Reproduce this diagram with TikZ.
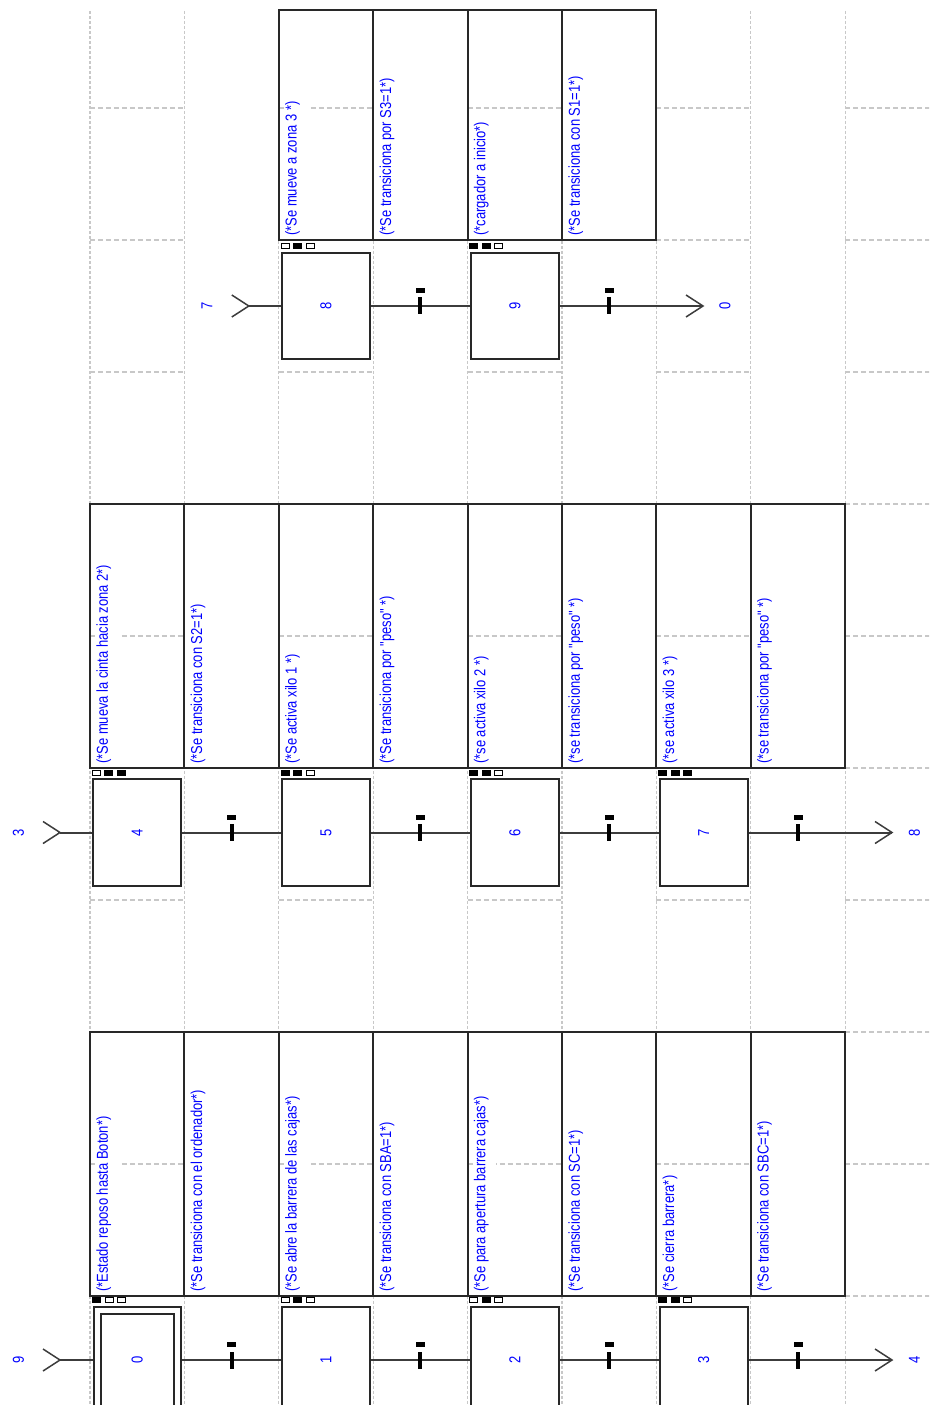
\documentclass[tikz,border=0pt]{standalone}
\usepackage{fontspec}
\usepackage{graphicx}
\newfontfamily\arialfont[FakeStretch=0.82]{Liberation Sans}

\definecolor{bleutexte}{RGB}{0,0,255}
\definecolor{trait}{RGB}{60,60,60}
\definecolor{cadre}{RGB}{40,40,40}
\definecolor{grille}{RGB}{200,200,200}

% three activity squares above a step
\newcommand{\etats}[4]{%
	\foreach \f [count=\i from 0] in {#2,#3,#4}
		\draw[etatbox, fill=\f] ([shift={(\i*12.5,-3)}]#1.north west) rectangle +(8,-5);%
}

\begin{document}
\begin{tikzpicture}[
	x=0.02cm, y=-0.02cm,
	texte/.style={text=bleutexte, font=\arialfont\fontsize{9}{10}\selectfont},
	grillev/.style={draw=grille, line width=0.025cm, dash pattern=on 0.06cm off 0.04cm},
	grilleh/.style={draw=grille, line width=0.025cm, dash pattern=on 0.1cm off 0.06cm},
	cellule/.style={draw=cadre, line width=0.04cm},
	commentaire/.style={
		texte, rotate=90, anchor=north west,
		fill=white, inner sep=0.02cm, text depth=0.2cm
	},
	etape/.style={
		draw=cadre, fill=white, texte,
		line width=0.04cm, inner sep=0,
		minimum width=1.76cm,
		minimum height=2.14cm
	},
	initiale/.style={
		etape, double, double distance=0.1cm,
		minimum width=1.6cm,
		minimum height=2cm,
		outer sep=0.09cm
	},
	marque/.style={fill=black, minimum width=0.18cm, minimum height=0.1cm, inner sep=0, outer sep=0},
	transition/.style={
		fill=black, inner sep=0, outer sep=0,
		minimum width=0.08cm,
		minimum height=0.34cm,
		label={[marque, yshift=0.09cm]above:{}}
	},
	etatbox/.style={draw=black, line width=0.02cm},
	lien/.style={draw=trait, line width=0.04cm},
	chevron/.style={draw=trait, line width=0.03cm},
	renvoi/.style={texte, rotate=90}
	]
	
	\useasboundingbox (0,0) rectangle (929,1405);
	\clip (0,0) rectangle (929,1405);
	
	% grid
	\foreach \k in {0,...,8}
		\draw[grillev] (90+\k*94.4,11) -- (90+\k*94.4,1405);
	\foreach \k in {0,2,4,6,8}
		\foreach \j in {0,...,9}
			\draw[grilleh] (90+\k*94.4,108+\j*132) -- ++(94.4,0);
	
	% action tables
	\foreach \k in {0,...,7}
		\draw[cellule] (90+\k*94.4,1032) rectangle ++(94.4,264);
	\foreach \k in {0,...,7}
		\draw[cellule] (90+\k*94.4,504) rectangle ++(94.4,264);
	\foreach \k in {2,...,5}
		\draw[cellule] (90+\k*94.4,10) rectangle ++(94.4,230);
	
	\node[commentaire] (a0)  at (95,1293)    {(*Estado reposo hasta Boton*)};
	\node[commentaire] (c01) at (189.4,1293) {(*Se transiciona con el ordenador*)};
	\node[commentaire] (a1)  at (283.8,1293) {(*Se abre la barrera de las cajas*)};
	\node[commentaire] (c12) at (378.2,1293) {(*Se transiciona con SBA=1*)};
	\node[commentaire] (a2)  at (472.6,1293) {(*Se para apertura barrera cajas*)};
	\node[commentaire] (c23) at (567,1293)   {(*Se transiciona con SC=1*)};
	\node[commentaire] (a3)  at (661.4,1293) {(*Se cierra barrera*)};
	\node[commentaire] (c34) at (755.8,1293) {(*Se transiciona con SBC=1*)};
	
	\node[commentaire] (a4)  at (95,765)    {(*Se mueva la cinta hacia zona 2*)};
	\node[commentaire] (c45) at (189.4,765) {(*Se transiciona con S2=1*)};
	\node[commentaire] (a5)  at (283.8,765) {(*Se activa xilo 1 *)};
	\node[commentaire] (c56) at (378.2,765) {(*Se transiciona por "peso" *)};
	\node[commentaire] (a6)  at (472.6,765) {(*se activa xilo 2 *)};
	\node[commentaire] (c67) at (567,765)   {(*se transiciona por "peso" *)};
	\node[commentaire] (a7)  at (661.4,765) {(*se activa xilo 3 *)};
	\node[commentaire] (c78) at (755.8,765) {(*se transiciona por "peso"  *)};
	
	\node[commentaire] (a8)  at (283.8,237) {(*Se mueve a zona 3 *)};
	\node[commentaire] (c89) at (378.2,237) {(*Se transiciona por S3=1*)};
	\node[commentaire] (a9)  at (472.6,237) {(*cargador a inicio*)};
	\node[commentaire] (c90) at (567,237)   {(*Se transiciona con S1=1*)};
	
	% first chain
	\node[renvoi] (r9) at (18.5,1360) {9};
	\coordinate (in9) at (60,1360);
	\node[initiale] (e0) at (137.2,1360) {\rotatebox{90}{0}};
	\node[transition] (t01) at (231.6,1360) {};
	\node[etape] (e1) at (326,1360) {\rotatebox{90}{1}};
	\node[transition] (t12) at (420.4,1360) {};
	\node[etape] (e2) at (514.8,1360) {\rotatebox{90}{2}};
	\node[transition] (t23) at (609.2,1360) {};
	\node[etape] (e3) at (703.6,1360) {\rotatebox{90}{3}};
	\node[transition] (t34) at (798,1360) {};
	\coordinate (out4) at (892,1360);
	\node[renvoi] (r4) at (914.5,1360) {4};
	
	\draw[lien] (in9) -- (e0) -- (t01) -- (e1) -- (t12) -- (e2) -- (t23) -- (e3) -- (t34) -- (out4);
	\draw[chevron] (in9) ++(-17,-11) -- (in9) -- ++(-17,11);
	\draw[chevron] (out4) ++(-17,-11) -- (out4) -- ++(-17,11);
	
	\etats{e0}{black}{white}{white}
	\etats{e1}{white}{black}{white}
	\etats{e2}{white}{black}{white}
	\etats{e3}{black}{black}{white}
	
	% second chain
	\node[renvoi] (r3) at (18.5,832.5) {3};
	\coordinate (in3) at (60,832.5);
	\node[etape] (e4) at (137.2,832.5) {\rotatebox{90}{4}};
	\node[transition] (t45) at (231.6,832.5) {};
	\node[etape] (e5) at (326,832.5) {\rotatebox{90}{5}};
	\node[transition] (t56) at (420.4,832.5) {};
	\node[etape] (e6) at (514.8,832.5) {\rotatebox{90}{6}};
	\node[transition] (t67) at (609.2,832.5) {};
	\node[etape] (e7) at (703.6,832.5) {\rotatebox{90}{7}};
	\node[transition] (t78) at (798,832.5) {};
	\coordinate (out8) at (892,832.5);
	\node[renvoi] (r8) at (914.5,832.5) {8};
	
	\draw[lien] (in3) -- (e4) -- (t45) -- (e5) -- (t56) -- (e6) -- (t67) -- (e7) -- (t78) -- (out8);
	\draw[chevron] (in3) ++(-17,-11) -- (in3) -- ++(-17,11);
	\draw[chevron] (out8) ++(-17,-11) -- (out8) -- ++(-17,11);
	
	\etats{e4}{white}{black}{black}
	\etats{e5}{black}{black}{white}
	\etats{e6}{black}{black}{white}
	\etats{e7}{black}{black}{black}
	
	% third chain
	\node[renvoi] (r7) at (207,306) {7};
	\coordinate (in7) at (248.8,306);
	\node[etape] (e8) at (326,306) {\rotatebox{90}{8}};
	\node[transition] (t89) at (420.4,306) {};
	\node[etape] (e9) at (514.8,306) {\rotatebox{90}{9}};
	\node[transition] (t90) at (609.2,306) {};
	\coordinate (out0) at (703,306);
	\node[renvoi] (r0) at (725,306) {0};
	
	\draw[lien] (in7) -- (e8) -- (t89) -- (e9) -- (t90) -- (out0);
	\draw[chevron] (in7) ++(-17,-11) -- (in7) -- ++(-17,11);
	\draw[chevron] (out0) ++(-17,-11) -- (out0) -- ++(-17,11);
	
	\etats{e8}{white}{black}{white}
	\etats{e9}{black}{black}{white}
	
\end{tikzpicture}
\end{document}
